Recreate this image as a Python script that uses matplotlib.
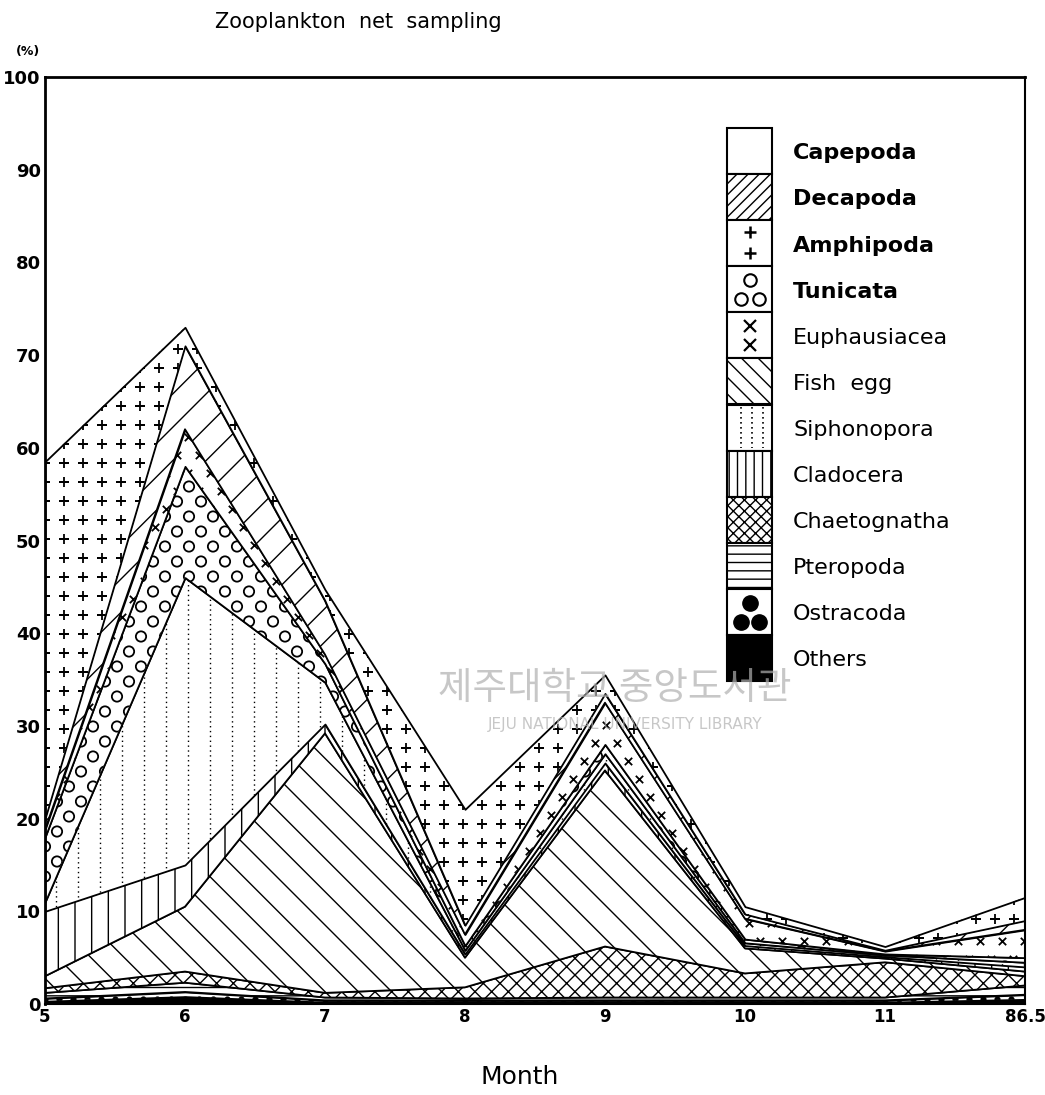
import matplotlib.pyplot as plt
import numpy as np
from matplotlib.patches import Rectangle

# Zooplankton composition (%) by month.
MONTHS = ["5", "6", "7", "8", "9", "10", "11", "86.5"]

# layers listed from the bottom of the stack upwards
OTHERS = [0.3, 0.8, 0.2, 0.2, 0.2, 0.2, 0.2, 0.5]
OSTRACODA = [0.3, 0.5, 0.2, 0.2, 0.2, 0.2, 0.2, 0.5]
PTEROPODA = [0.6, 1.0, 0.3, 0.2, 0.3, 0.3, 0.3, 1.0]
CHAETOGNATHA = [0.5, 1.2, 0.5, 1.2, 5.5, 2.6, 3.8, 1.0]
FISH_EGG = [1.3, 7.0, 28.0, 3.2, 19.0, 2.7, 0.4, 0.5]
CLADOCERA = [7.0, 4.5, 1.0, 0.4, 0.8, 0.3, 0.2, 0.5]
SIPHONOPORA = [1.0, 31.0, 4.5, 0.4, 1.0, 0.3, 0.2, 0.5]
TUNICATA = [7.0, 12.0, 2.0, 0.5, 1.0, 0.4, 0.1, 0.5]
EUPHAUSIACEA = [0.8, 4.0, 1.0, 1.2, 4.5, 2.2, 0.3, 3.0]
DECAPODA = [1.2, 9.0, 5.8, 1.0, 1.0, 0.5, 0.1, 1.0]
AMPHIPODA = [38.5, 2.0, 1.2, 12.5, 2.0, 0.8, 0.4, 2.5]
# Copepoda is the white remainder up to 100 %

LEGEND_NAMES = ["Capepoda", "Decapoda", "Amphipoda", "Tunicata", "Euphausiacea",
                "Fish  egg", "Siphonopora", "Cladocera", "Chaetognatha",
                "Pteropoda", "Ostracoda", "Others"]
BOLD_NAMES = {"Capepoda", "Decapoda", "Amphipoda", "Tunicata"}

W_PX, H_PX = 980, 927  # plot area size in pixels, used for pattern spacing


def grid_points(dx, dy, stagger=True):
    xs, ys = [], []
    for j, y in enumerate(np.arange(dy / 2, H_PX, dy)):
        off = dx / 2 if (stagger and j % 2) else 0
        for x in np.arange(off, W_PX, dx):
            xs.append(x / W_PX)
            ys.append(y / H_PX)
    return xs, ys


def marker_fill(ax, coll, marker, dx, dy, size, filled=False, lw=1.3, stagger=True):
    xs, ys = grid_points(dx, dy, stagger)
    face = "black" if filled else ("none" if marker == "o" else "black")
    sc = ax.scatter(xs, ys, s=size, marker=marker, transform=ax.transAxes,
                    facecolors=face, edgecolors="black", linewidths=lw, zorder=3)
    sc.set_clip_path(coll.get_paths()[0], ax.transData)


def dotted_vlines(ax, coll, dx):
    xs = np.arange(dx / 2, W_PX, dx) / W_PX
    lc = ax.vlines(xs, 0, 1, transform=ax.transAxes, colors="black",
                   linestyles=(0, (1, 2.5)), linewidth=1.0, zorder=3)
    lc.set_clip_path(coll.get_paths()[0], ax.transData)


plt.rcParams["font.family"] = ["DejaVu Sans"]
fig = plt.figure(figsize=(10.45, 10.95), dpi=100)
ax = fig.add_axes([45 / 1045, 91 / 1095, 980 / 1045, 927 / 1095])

x = np.arange(len(MONTHS))
layers = [
    (OTHERS, dict(facecolor="black")),
    (OSTRACODA, dict(facecolor="white")),
    (PTEROPODA, dict(facecolor="white", hatch="--")),
    (CHAETOGNATHA, dict(facecolor="white", hatch="xx")),
    (FISH_EGG, dict(facecolor="white", hatch="\\")),
    (CLADOCERA, dict(facecolor="white", hatch="|")),
    (SIPHONOPORA, dict(facecolor="white")),
    (TUNICATA, dict(facecolor="white")),
    (EUPHAUSIACEA, dict(facecolor="white")),
    (DECAPODA, dict(facecolor="white", hatch="/")),
    (AMPHIPODA, dict(facecolor="white")),
]

lower = np.zeros(len(MONTHS))
colls = []
for values, style in layers:
    upper = lower + np.array(values)
    coll = ax.fill_between(x, lower, upper, edgecolor="black", linewidth=1.3, **style)
    colls.append(coll)
    lower = upper

marker_fill(ax, colls[1], "o", 14, 10, 10, filled=True)
dotted_vlines(ax, colls[6], 22)
marker_fill(ax, colls[7], "o", 24, 15, 55, lw=1.3)
marker_fill(ax, colls[8], "x", 22, 18, 28, lw=1.3)
marker_fill(ax, colls[10], "+", 19, 19, 55, lw=1.3, stagger=False)

ax.set_xlim(0, len(MONTHS) - 1)
ax.set_ylim(0, 100)
ax.set_xticks(x)
ax.set_xticklabels(MONTHS, fontsize=12, fontweight="bold")
ax.set_yticks(range(0, 101, 10))
ax.set_yticklabels([str(v) for v in range(0, 101, 10)], fontsize=13, fontweight="bold")
ax.tick_params(length=0, pad=3)
for side in ["left", "top"]:
    ax.spines[side].set_linewidth(2.0)
for side in ["right", "bottom"]:
    ax.spines[side].set_linewidth(1.5)

fig.text(215 / 1045, 1 - 22 / 1095, "Zooplankton  net  sampling", fontsize=15,
         ha="left", va="center")
fig.text(28 / 1045, 1 - 52 / 1095, "(%)", fontsize=9, fontweight="bold",
         ha="center", va="center")
fig.text(520 / 1045, 1 - 1077 / 1095, "Month", fontsize=18, ha="center", va="center")

# library watermark on the scan
fig.text(615 / 1045, 1 - 688 / 1095, "제주대학교 중앙도서관", fontsize=27,
         family=["Noto Sans CJK KR", "DejaVu Sans"], color="#b0b0b0", alpha=0.7,
         ha="center", va="center", zorder=10)
fig.text(625 / 1045, 1 - 724 / 1095, "JEJU NATIONAL UNIVERSITY LIBRARY", fontsize=11,
         color="#b0b0b0", alpha=0.7, ha="center", va="center", zorder=10)

# legend column of pattern boxes
lax = fig.add_axes([727 / 1045, 1 - 681 / 1095, 45 / 1045, 553 / 1095])
lax.set_xlim(0, 1)
lax.set_ylim(len(LEGEND_NAMES), 0)
lax.axis("off")
box_styles = [
    dict(facecolor="white"),
    dict(facecolor="white", hatch="///"),
    dict(facecolor="white"),
    dict(facecolor="white"),
    dict(facecolor="white"),
    dict(facecolor="white", hatch="\\\\"),
    dict(facecolor="white"),
    dict(facecolor="white", hatch="||"),
    dict(facecolor="white", hatch="xxx"),
    dict(facecolor="white", hatch="--"),
    dict(facecolor="white"),
    dict(facecolor="black"),
]
for i, (name, style) in enumerate(zip(LEGEND_NAMES, box_styles)):
    lax.add_patch(Rectangle((0, i), 1, 1, edgecolor="black", linewidth=1.5,
                            clip_on=False, **style))
    lax.text(1.47, i + 0.55, name, fontsize=16,
             fontweight="bold" if name in BOLD_NAMES else "normal",
             ha="left", va="center", transform=lax.transData, clip_on=False)

# symbols inside the legend boxes
lax.plot([0.5, 0.5], [2.25, 2.72], "+", color="black", ms=9, mew=1.8)
lax.plot([0.5, 0.3, 0.7], [3.3, 3.72, 3.72], "o", mfc="none", mec="black", ms=9, mew=1.5)
lax.plot([0.5, 0.5], [4.3, 4.7], "x", color="black", ms=8, mew=1.6)
for xv in [0.3, 0.55, 0.8]:
    lax.plot([xv, xv], [6.05, 6.95], color="black", linestyle=(0, (1, 2)), lw=1.2)
lax.plot([0.5, 0.3, 0.7], [10.3, 10.72, 10.72], "o", color="black", ms=11)

fig.savefig("out.png", dpi=100)
